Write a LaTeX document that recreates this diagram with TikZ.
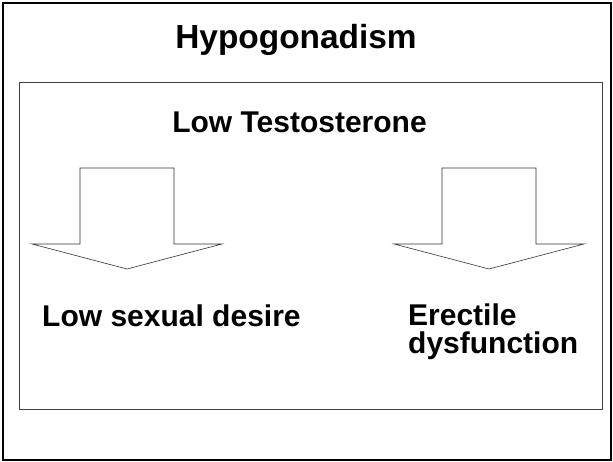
\documentclass[tikz,border=0pt]{standalone}
\usepackage{fontspec}
\setmainfont{Liberation Sans}
\usepackage{tikz}

\tikzset{
  frame/.style={draw=black, line width=2.5pt},
  panel/.style={draw=black!75, line width=0.8pt},
  blockarrow/.style={draw=black!80, line width=0.6pt, fill=white},
  label/.style={font=\bfseries\fontsize{30}{36}\selectfont, inner sep=0pt}
}

\begin{document}
\begin{tikzpicture}[x=1pt, y=1pt]
  \useasboundingbox (0,0) rectangle (613,462);
  % Cornice esterna e riquadro interno
  \draw[frame] (3,459) rectangle (611,2);
  \draw[panel] (19,380) rectangle (602,53);

  % Titoli
  \node[label, anchor=base, font=\bfseries\fontsize{33.4}{40}\selectfont] (title) at (296,413) {Hypogonadism};
  \node[label, anchor=base] (cause) at (299.5,329) {Low Testosterone};

  % Frecce a blocco
  \foreach \cx in {127,489}
    \draw[blockarrow] (\cx-47,294) -- (\cx+47,294) -- (\cx+47,218) -- (\cx+95,218)
      -- (\cx,193) -- (\cx-95,218) -- (\cx-47,218) -- cycle;

  % Effetti
  \node[label, anchor=base west] (desire) at (42,135) {Low sexual desire};
  \node[label, anchor=base west] (erectile) at (408,136) {Erectile};
  \node[label, anchor=base west] (dysfunction) at (408,108) {dysfunction};
\end{tikzpicture}
\end{document}
